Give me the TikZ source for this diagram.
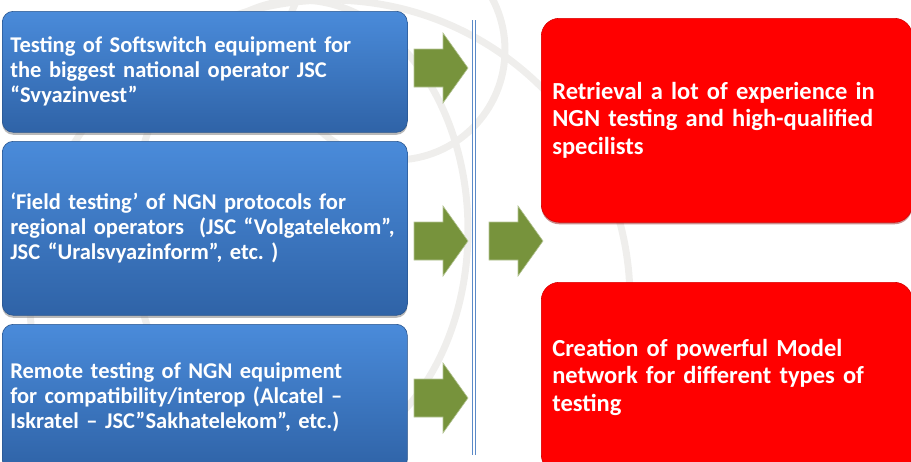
\documentclass[tikz,border=0pt]{standalone}
\usepackage{fontspec}
\setmainfont{Carlito}
\frenchspacing
\usetikzlibrary{positioning,shadows}
\definecolor{boxtop}{HTML}{4A8BDA}
\definecolor{boxmid}{HTML}{3E7AC7}
\definecolor{boxbot}{HTML}{2F63A7}
\definecolor{olive}{HTML}{77933C}
\definecolor{hot}{HTML}{FF0000}
\definecolor{rule}{HTML}{5B8AC8}
\definecolor{globe}{HTML}{EFEEEC}

\tikzset{
  task/.style={rectangle, rounded corners=11pt, anchor=north west,
    top color=boxtop, middle color=boxmid, bottom color=boxbot,
    draw=boxbot!85!black, line width=0.6pt,
    drop shadow={shadow xshift=0pt, shadow yshift=-2.5pt, opacity=0.55},
    text=white, font=\fontsize{22.5}{25}\selectfont\bfseries,
    align=left, text width=389pt, inner xsep=8pt, inner ysep=0pt},
  result/.style={rectangle, rounded corners=18pt, anchor=north west,
    fill=hot, draw=hot!85!black, line width=0.6pt,
    drop shadow={shadow xshift=0pt, shadow yshift=-2pt, opacity=0.45, fill=hot!55!black},
    text=white, font=\fontsize{24.5}{27.5}\selectfont\bfseries,
    align=left, text width=349pt, inner xsep=11pt, inner ysep=0pt},
  blockarrow/.pic={
    \fill[olive, draw=olive!55!white, line width=0.6pt]
      (0,-19) -- (29,-19) -- (29,-35) -- (54,0) -- (29,35) -- (29,19) -- (0,19) -- cycle;
  },
}

\begin{document}
\begin{tikzpicture}[x=1pt, y=-1pt]
  \useasboundingbox (0,0) rectangle (911,461);
  \clip (0,0) rectangle (911,461);

  % faint globe in the background
  \begin{scope}[globe, line width=7pt]
    \draw (330,300) circle (300);
    \draw (395,50) circle (110);
    \draw (300,230) ellipse (168 and 230);
  \end{scope}

  % what was done (left column)
  \node[task, minimum height=121pt] (soft) at (2,11)
    {Testing of Softswitch equipment for\\the biggest national operator JSC\\“Svyazinvest”};
  \node[task, minimum height=174pt] (field) at (2,141)
    {‘Field testing’ of NGN protocols for\\regional operators\ \ (JSC “Volgatelekom”,\\JSC “Uralsvyazinform”, etc. )};
  \node[task, minimum height=146pt] (remote) at (2,324)
    {Remote testing of NGN equipment\\for compatibility/interop (Alcatel –\\Iskratel – JSC”Sakhatelekom”, etc.)};

  % arrows and the dividing line
  \pic at (414,68) {blockarrow};
  \pic at (414,241) {blockarrow};
  \pic at (414,398) {blockarrow};
  \draw[rule, line width=1.1pt, double=white, double distance=1.6pt] (474,20) -- (474,455);
  \pic at (489,241) {blockarrow};

  % what came out of it (right column)
  \node[result, minimum height=204pt] (skill) at (541,18)
    {Retrieval a lot of experience in\\NGN testing and high-qualified\\specilists};
  \node[result, minimum height=190pt] (model) at (541,282)
    {Creation of powerful Model\\network for different types of\\testing};
\end{tikzpicture}
\end{document}
